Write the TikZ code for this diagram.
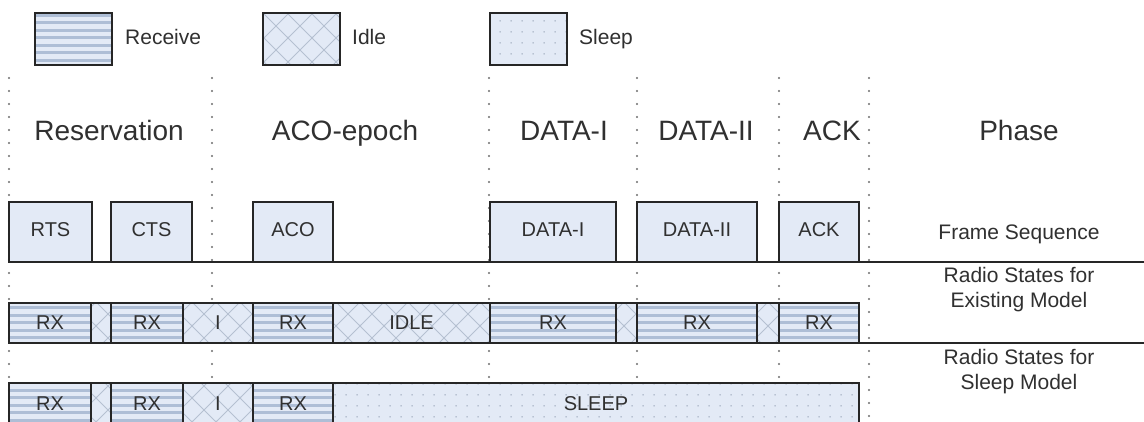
\documentclass[tikz,border=0pt]{standalone}
\usepackage{fontspec}
\setmainfont{Liberation Sans}
\usetikzlibrary{patterns}

% fill patterns for the three radio states
\pgfdeclarepatternformonly{rxstripes}{\pgfqpoint{-1pt}{0pt}}{\pgfqpoint{9pt}{7.5pt}}{\pgfqpoint{8pt}{7.5pt}}{%
  \pgfpathrectangle{\pgfqpoint{-1pt}{0pt}}{\pgfqpoint{10pt}{3pt}}\pgfusepath{fill}}
\pgfdeclarepatternformonly{idlehatch}{\pgfqpoint{-1pt}{-1pt}}{\pgfqpoint{25pt}{25pt}}{\pgfqpoint{24pt}{24pt}}{%
  \pgfsetlinewidth{0.8pt}%
  \pgfpathmoveto{\pgfqpoint{-1pt}{-1pt}}\pgfpathlineto{\pgfqpoint{25pt}{25pt}}%
  \pgfpathmoveto{\pgfqpoint{-1pt}{25pt}}\pgfpathlineto{\pgfqpoint{25pt}{-1pt}}%
  \pgfusepath{stroke}}
\pgfdeclarepatternformonly{sleepdots}{\pgfqpoint{0pt}{0pt}}{\pgfqpoint{11pt}{11pt}}{\pgfqpoint{11pt}{11pt}}{%
  \pgfpathcircle{\pgfqpoint{5.5pt}{5.5pt}}{0.9pt}\pgfusepath{fill}}

\definecolor{boxfill}{HTML}{E3EAF6}
\definecolor{stripe}{HTML}{AEBED6}
\definecolor{hatch}{HTML}{B5C0D1}
\definecolor{dotc}{HTML}{A9B4C6}
\definecolor{ink}{HTML}{262626}
\definecolor{txt}{HTML}{303030}
\definecolor{guide}{HTML}{6E6E6E}

\tikzset{
  framebox/.style={fill=boxfill, draw=ink, line width=1.8pt},
  rxbox/.style={preaction={fill=boxfill}, pattern=rxstripes, pattern color=stripe, draw=ink, line width=1.8pt},
  idlebox/.style={preaction={fill=boxfill}, pattern=idlehatch, pattern color=hatch, draw=ink, line width=1.8pt},
  sleepbox/.style={preaction={fill=boxfill}, pattern=sleepdots, pattern color=dotc, draw=ink, line width=1.8pt},
  guideline/.style={draw=guide, line width=2.3pt, line cap=round, dash pattern=on 0pt off 13pt},
  rule/.style={draw=ink, line width=1.8pt},
  lbl/.style={text=txt, inner sep=0pt, anchor=base, font=\fontsize{20}{24}\selectfont},
  head/.style={text=txt, inner sep=0pt, anchor=base, font=\fontsize{28}{32}\selectfont},
  side/.style={text=txt, inner sep=0pt, anchor=base, align=center, font=\fontsize{21}{25}\selectfont},
  legtext/.style={text=txt, inner sep=0pt, anchor=base west, font=\fontsize{21}{25}\selectfont},
}

% \seg{node name}{style}{x1}{x2}{y1}{y2}{label baseline}{label}
\newcommand{\seg}[8]{%
  \path[#2] (#3,#5) rectangle (#4,#6);
  \node[lbl] (#1) at ({(#3+#4)/2},#7) {#8};}

\begin{document}
\begin{tikzpicture}[x=1pt, y=-1pt]
\useasboundingbox (0,0) rectangle (1144,422);
\fill[white] (0,0) rectangle (1144,422);

% legend
\path[rxbox]    (35,13) rectangle (112,65);
\node[legtext] (legrx) at (125,45) {Receive};
\path[idlebox]  (263,13) rectangle (340,65);
\node[legtext] (legidle) at (352,45) {Idle};
\path[sleepbox] (490,13) rectangle (567,65);
\node[legtext] (legsleep) at (579,45) {Sleep};

% phase boundaries
\foreach \gx in {9,212,489,637,779,869}
  \draw[guideline] (\gx,78) -- (\gx,424);

% phase names
\node[head] (hres)   at (109,141) {Reservation};
\node[head] (haco)   at (345,141) {ACO-epoch};
\node[head] (hd1)    at (564,141) {DATA-I};
\node[head] (hd2)    at (706,141) {DATA-II};
\node[head] (hack)   at (832,141) {ACK};
\node[head] (hphase) at (1019,141) {Phase};

% frame sequence
\seg{frts}{framebox}{9}{92}{202}{262}{237}{RTS}
\seg{fcts}{framebox}{111}{192}{202}{262}{237}{CTS}
\seg{faco}{framebox}{253}{333}{202}{262}{237}{ACO}
\seg{fd1}{framebox}{490}{616}{202}{262}{237}{DATA-I}
\seg{fd2}{framebox}{637}{757}{202}{262}{237}{DATA-II}
\seg{fack}{framebox}{779}{859}{202}{262}{237}{ACK}
\draw[rule] (9,262) -- (1144,262);
\node[side] (sframe) at (1019,239.5) {Frame Sequence};

% radio states, existing model
\seg{e1}{rxbox}{9}{91}{303}{343}{330}{RX}
\seg{e2}{idlebox}{91}{111}{303}{343}{330}{}
\seg{e3}{rxbox}{111}{183}{303}{343}{330}{RX}
\seg{e4}{idlebox}{183}{253}{303}{343}{330}{I}
\seg{e5}{rxbox}{253}{333}{303}{343}{330}{RX}
\seg{e6}{idlebox}{333}{490}{303}{343}{330}{IDLE}
\seg{e7}{rxbox}{490}{616}{303}{343}{330}{RX}
\seg{e8}{idlebox}{616}{637}{303}{343}{330}{}
\seg{e9}{rxbox}{637}{757}{303}{343}{330}{RX}
\seg{e10}{idlebox}{757}{779}{303}{343}{330}{}
\seg{e11}{rxbox}{779}{859}{303}{343}{330}{RX}
\draw[rule] (9,343) -- (1144,343);
\node[side] (sexist) at (1019,307.5) {Radio States for\\Existing Model};

% radio states, sleep model
\seg{s1}{rxbox}{9}{91}{383}{426}{410}{RX}
\seg{s2}{idlebox}{91}{111}{383}{426}{410}{}
\seg{s3}{rxbox}{111}{183}{383}{426}{410}{RX}
\seg{s4}{idlebox}{183}{253}{383}{426}{410}{I}
\seg{s5}{rxbox}{253}{333}{383}{426}{410}{RX}
\seg{s6}{sleepbox}{333}{859}{383}{426}{410}{SLEEP}
\node[side] (ssleep) at (1019,389.5) {Radio States for\\Sleep Model};
\end{tikzpicture}
\end{document}
